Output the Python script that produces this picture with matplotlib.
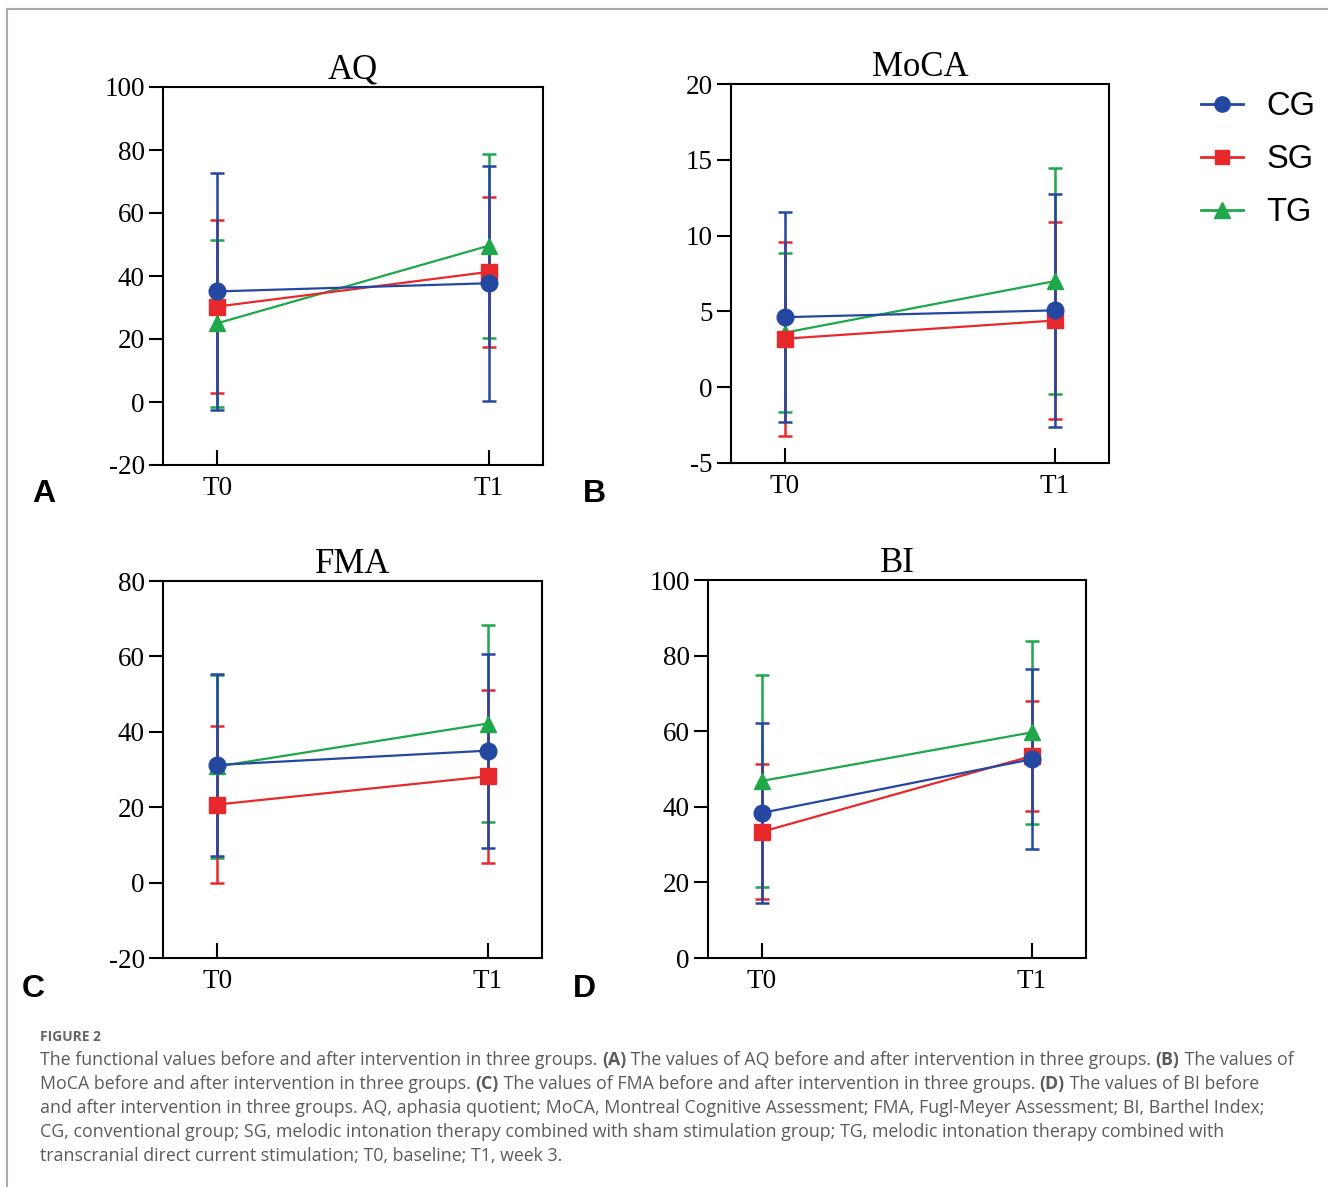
import numpy as np
import matplotlib
matplotlib.use('Agg')
import matplotlib.pyplot as plt
from matplotlib.lines import Line2D

plt.rcParams['axes.unicode_minus'] = False

# ---- Data ----
timepoints = ['T0', 'T1']
groups = ['CG', 'SG', 'TG']

# rows: CG, SG, TG ; columns: T0, T1
aq_mean = [[35.1, 37.7], [30.3, 41.3], [25.0, 49.6]]
aq_sd = [[37.7, 37.3], [27.5, 23.7], [26.5, 29.2]]

moca_mean = [[4.62, 5.07], [3.2, 4.4], [3.6, 7.0]]
moca_sd = [[6.93, 7.67], [6.4, 6.5], [5.25, 7.43]]

fma_mean = [[31.2, 35.0], [20.7, 28.2], [30.8, 42.2]]
fma_sd = [[24.2, 25.7], [20.9, 22.9], [24.2, 26.1]]

bi_mean = [[38.4, 52.6], [33.4, 53.45], [46.85, 59.7]]
bi_sd = [[23.8, 23.8], [17.9, 14.55], [28.15, 24.2]]

titles = ['AQ', 'MoCA', 'FMA', 'BI']
panel_letters = ['A', 'B', 'C', 'D']
ylims = [(-20, 100), (-5, 20), (-20, 80), (0, 100)]
yticks = [np.arange(-20, 101, 20), np.arange(-5, 21, 5),
          np.arange(-20, 81, 20), np.arange(0, 101, 20)]

caption_head = 'FIGURE 2'
caption_lines = [
    [('The functional values before and after intervention in three groups. ', 'normal'),
     ('(A)', 'bold'),
     (' The values of AQ before and after intervention in three groups. ', 'normal'),
     ('(B)', 'bold'), (' The values of', 'normal')],
    [('MoCA before and after intervention in three groups. ', 'normal'),
     ('(C)', 'bold'),
     (' The values of FMA before and after intervention in three groups. ', 'normal'),
     ('(D)', 'bold'), (' The values of BI before', 'normal')],
    [('and after intervention in three groups. AQ, aphasia quotient; MoCA, Montreal Cognitive Assessment; FMA, Fugl-Meyer Assessment; BI, Barthel Index;', 'normal')],
    [('CG, conventional group; SG, melodic intonation therapy combined with sham stimulation group; TG, melodic intonation therapy combined with', 'normal')],
    [('transcranial direct current stimulation; T0, baseline; T1, week 3.', 'normal')],
]

# ---- Style ----
colors = {'CG': '#2447a0', 'SG': '#e8292b', 'TG': '#1fa84a'}
markers = {'CG': 'o', 'SG': 's', 'TG': '^'}
msizes = {'CG': 12, 'SG': 11, 'TG': 12}
draw_order = ['TG', 'SG', 'CG']

W, H = 1328, 1187
fig = plt.figure(figsize=(W / 100, H / 100), dpi=100)

# axes boxes in pixels: left, top, right, bottom
boxes = [(163, 87, 543, 465), (731, 84, 1109, 463),
         (163, 581, 542, 958), (708, 580, 1086, 958)]
letter_pos = [(32, 502), (583, 502), (22, 997), (573, 997)]

serif = 'Liberation Serif'
sans = 'Liberation Sans'

means = [aq_mean, moca_mean, fma_mean, bi_mean]
sds = [aq_sd, moca_sd, fma_sd, bi_sd]
x = np.arange(len(timepoints))

for i in range(4):
    l, t, r, b = boxes[i]
    ax = fig.add_axes([l / W, 1 - b / H, (r - l) / W, (b - t) / H])
    for g in draw_order:
        k = groups.index(g)
        ax.errorbar(x, means[i][k], yerr=sds[i][k], color=colors[g],
                    marker=markers[g], ms=msizes[g], lw=1.6, elinewidth=1.8,
                    capsize=5, capthick=1.8, label=g)
    ax.set_xlim(-0.2, 1.2)
    ax.set_ylim(*ylims[i])
    ax.set_yticks(yticks[i])
    ax.set_xticks(x)
    ax.set_xticklabels(timepoints)
    for lab in ax.get_xticklabels() + ax.get_yticklabels():
        lab.set_fontfamily(serif)
        lab.set_fontsize(19.5)
    ax.tick_params(axis='y', direction='out', length=10, width=1.5, pad=3)
    ax.tick_params(axis='x', direction='in', length=11, width=1.5, pad=8)
    for s in ax.spines.values():
        s.set_linewidth(1.5)
    ax.set_title(titles[i], fontfamily=serif, fontsize=25, pad=5)
    fig.text(letter_pos[i][0] / W, 1 - letter_pos[i][1] / H, panel_letters[i],
             fontfamily=sans, fontweight='bold', fontsize=23,
             ha='left', va='baseline')

# legend
handles = [Line2D([], [], color=colors[g], marker=markers[g], ms=msizes[g] - 1,
                  lw=2) for g in groups]
fig.legend(handles, groups, loc='upper left', frameon=False,
           bbox_to_anchor=(1201 / W, 1 - 91 / H), prop={'family': sans, 'size': 23.5},
           handlelength=1.3, handletextpad=0.7, labelspacing=0.68,
           borderpad=0, borderaxespad=0)

# border lines of the figure panel
fig.add_artist(Line2D([6.5 / W, 6.5 / W], [1 - 9 / H, 0], color='#aaaaaa', lw=1.5))
fig.add_artist(Line2D([6.5 / W, 1], [1 - 9 / H, 1 - 9 / H], color='#aaaaaa', lw=1.5))

# caption
cap_family = 'Open Sans'
cap_color = '#5a5a5a'
fig.text(40 / W, 1 - 1037 / H, caption_head, fontfamily=cap_family,
         fontweight='bold', fontsize=10, color='#666666', ha='left', va='center')

renderer = fig.canvas.get_renderer()
cap_size = 12.8
line_y = [1060, 1084, 1108, 1132, 1156]
for parts, yy in zip(caption_lines, line_y):
    xx = 40
    for txt, wt in parts:
        tobj = fig.text(xx / W, 1 - yy / H, txt, fontfamily=cap_family,
                        fontweight=wt, fontsize=cap_size, color=cap_color,
                        ha='left', va='center')
        bb = tobj.get_window_extent(renderer)
        xx += bb.width

fig.savefig('out.png', dpi=100)
